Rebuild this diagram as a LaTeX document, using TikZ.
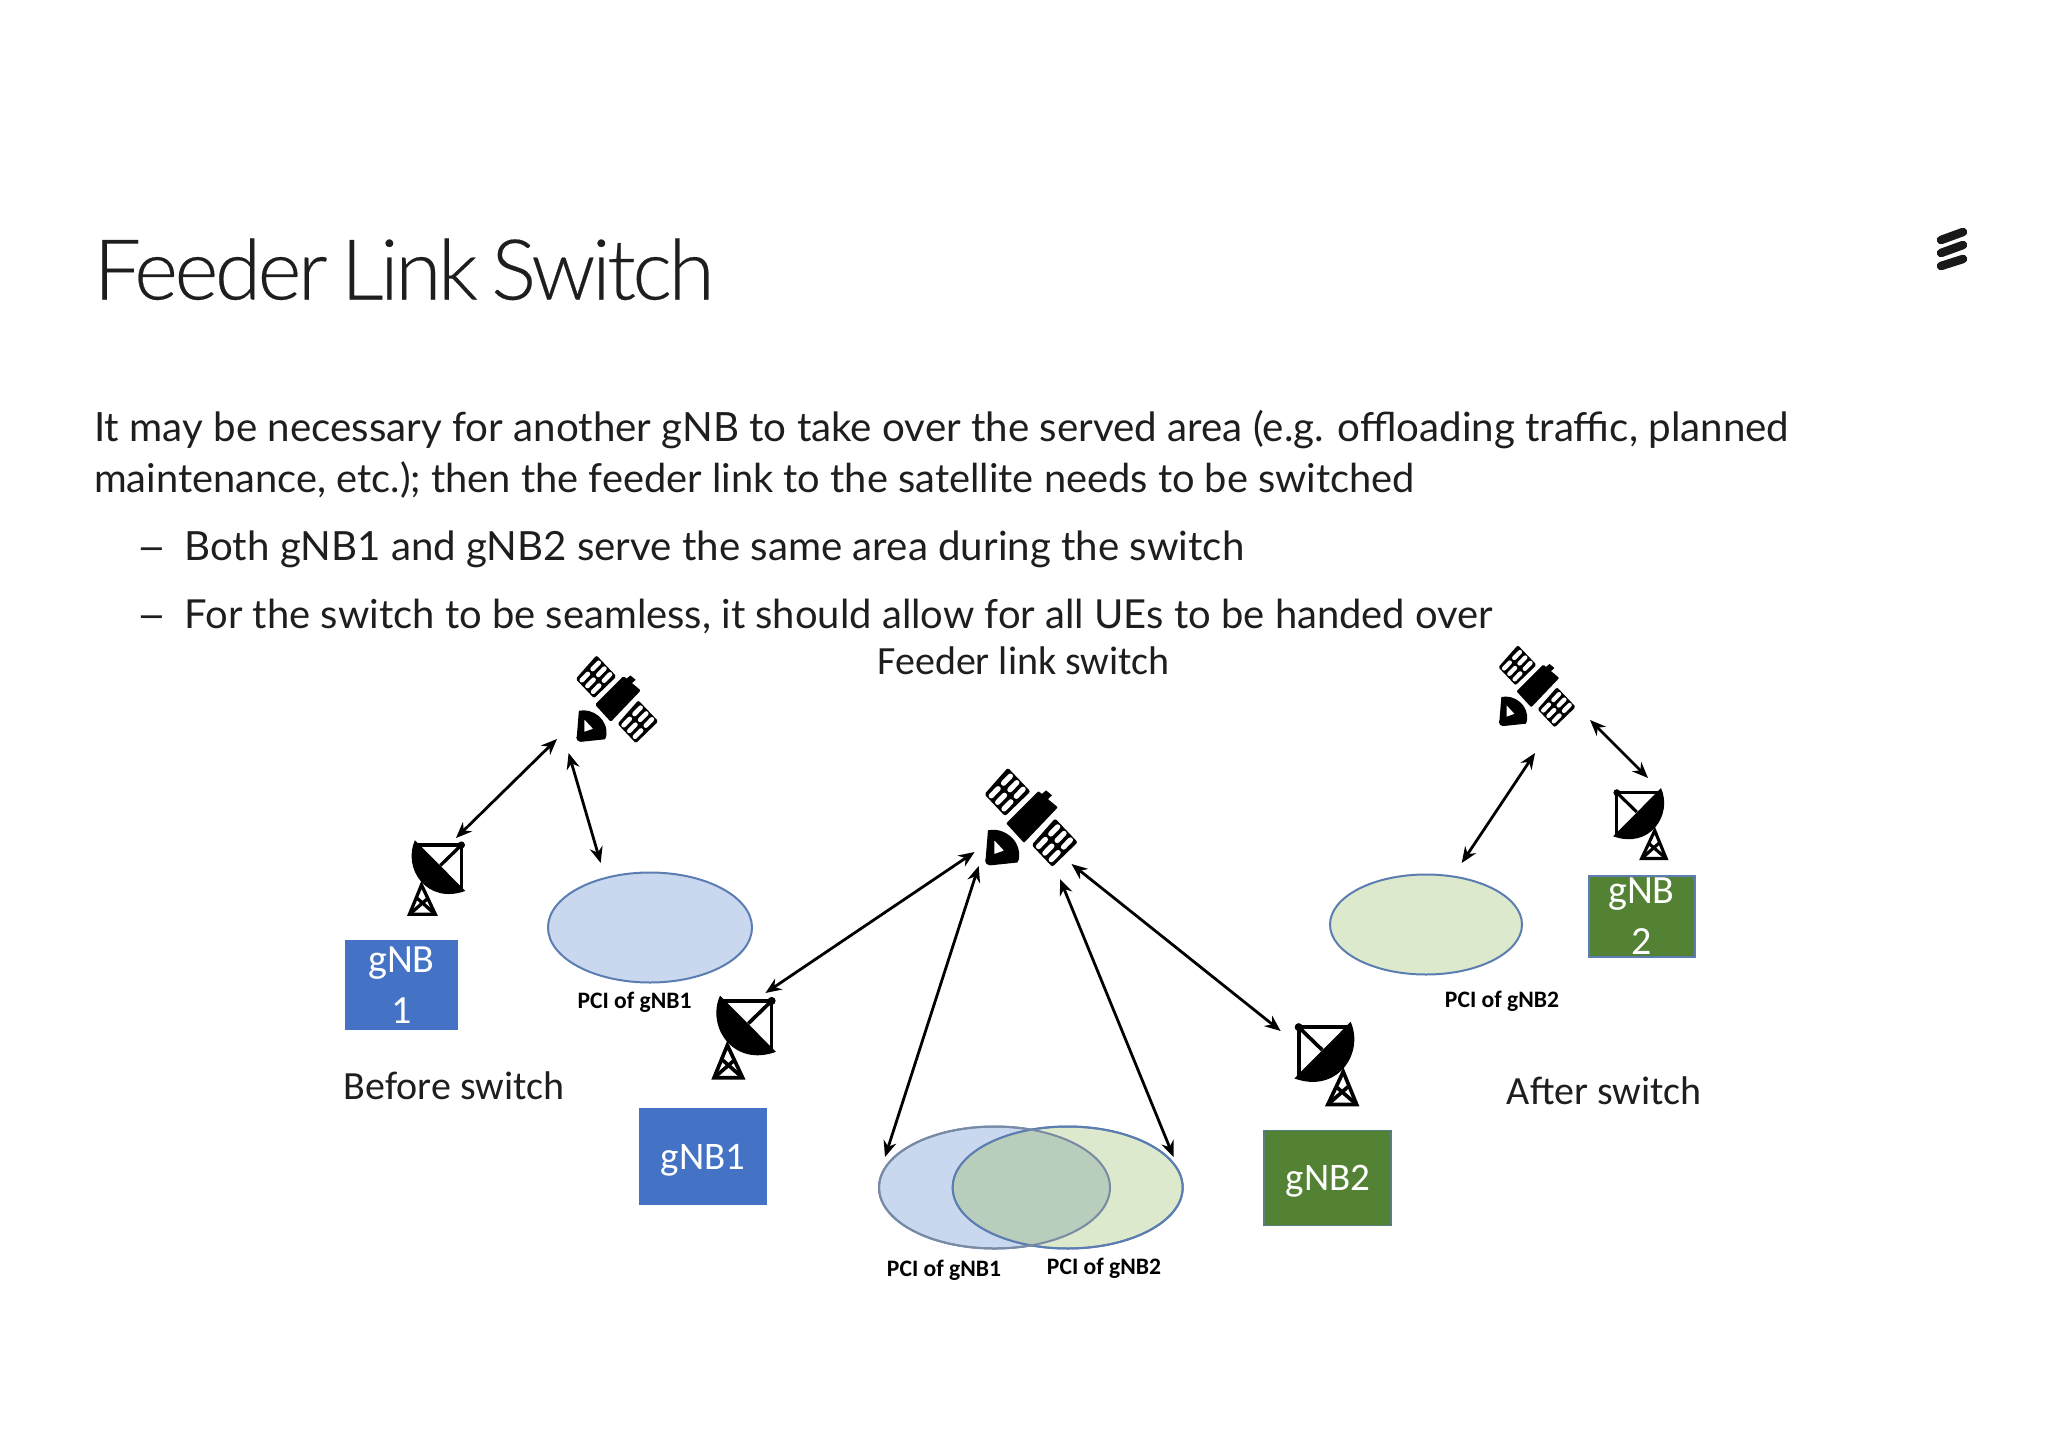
\documentclass[tikz,border=0pt]{standalone}
\usepackage{fontspec}
\setmainfont{Lato}
\newfontfamily\lab{Carlito}
\newfontfamily\titlef{Lato Light}[LetterSpace=-4.2,WordSpace=0.7,FakeBold=0.25]
\usetikzlibrary{arrows.meta,shapes.geometric}
\definecolor{bluebox}{HTML}{4472C4}
\definecolor{greenbox}{HTML}{548235}
\definecolor{bluefill}{HTML}{C9D7EF}
\definecolor{greenfill}{HTML}{DDE9CC}
\definecolor{overlapfill}{HTML}{B8CDBC}
\definecolor{ringcol}{HTML}{5B7DB1}
\definecolor{ink}{HTML}{1E1E1E}
\newcommand\FS[1]{\fontsize{#1}{#1}\selectfont}
\tikzset{
  link/.style={{Stealth[length=16pt,width=13pt]}-{Stealth[length=16pt,width=13pt]},line width=2.8pt,black},
  gbox/.style={inner sep=0pt,text=white,align=center,font=\lab\fontsize{40}{51}\selectfont},
  blue box/.style={gbox,fill=bluebox},
  green box/.style={gbox,fill=greenbox},
  box text/.style={inner sep=0pt,text=white,font=\lab\FS{39}},
  area/.style={ellipse,inner sep=0pt,draw=ringcol,line width=2pt},
  pci/.style={font=\lab\bfseries\FS{23.6},text=black,inner sep=0pt},
  cap label/.style={font=\lab\FS{40},text=ink,inner sep=0pt},
  bodyline/.style={anchor=base west,inner sep=0pt,text=ink},
  dash mark/.style={anchor=base west,inner sep=0pt,text=ink,font=\bfseries\FS{31}},
}
\newcommand\SatPanel[3]{% cx, cy, scale
  \fill[black,line join=round,line width=#3*12pt,draw=black]
    (#1+2,#2-62) -- (#1+58,#2-3) -- (#1-6,#2+59) -- (#1-57,#2+5) -- cycle;
  \foreach \u in {-26,0,26}{\foreach \v in {-25,25}{
    \draw[white,line cap=round,line width=#3*15pt]
      ({#1+0.70*\u-0.70*(\v-14)},{#2+0.72*\u+0.72*(\v-14)}) --
      ({#1+0.70*\u-0.70*(\v+14)},{#2+0.72*\u+0.72*(\v+14)});
  }}
}
\newcommand\SatIcon[3]{% x, y, scale
  \begin{scope}[shift={(#1,#2)},scale=#3,shift={(-215,-200)}]
    \SatPanel{147}{130}{#3}
    \SatPanel{282}{275}{#3}
    \fill[black,draw=white,line width=#3*5pt,rounded corners=#3*6pt]
      (140,218) -- (236,122) -- (296,172) -- (195,278) -- cycle;
    \fill[black] (245,135) -- (258,124) -- (275,138) -- (262,150) -- cycle;
    \fill[black,even odd rule]
      (92,238) .. controls (135,228) and (190,265) .. (180,322) -- (176,330) -- (100,338) -- (85,325) -- cycle
      (110,266) -- (138,296) -- (110,306) -- cycle;
    \fill[black] (97,325) circle (13);
  \end{scope}
}
\newcommand\DishIcon[4]{% x, y, xscale, yscale
  \pgfmathsetmacro\dS{abs(#3)}
  \begin{scope}[shift={(#1,#2)},xscale=#3,yscale=#4,shift={(-132,-172)}]
    \begin{scope}[black,line width=\dS*11pt,line join=miter]
      \draw (60,62) -- (215,62) -- (215,215);
      \draw (215,62) -- (145,130);
      \fill (215,62) circle (12);
      \draw (82,195) -- (42,293) -- (128,293) -- cycle;
      \draw (42,293) -- (103,240);
      \draw (128,293) -- (68,240);
    \end{scope}
    \fill[black] (60,46) .. controls (18,140) and (100,262) .. (228,215) -- cycle;
  \end{scope}
}
\begin{document}
\begin{tikzpicture}[x=1pt,y=-1pt]
\useasboundingbox (0,0) rectangle (2048,1448);
\fill[white] (0,0) rectangle (2048,1448);

% heading and body
\node (title) [anchor=base west,inner sep=0pt,text=ink,font=\titlef\FS{84}] at (93.5,299.5) {Feeder Link Switch};
\node (l1) [bodyline,font=\FS{40.3}] at (94,441) {It may be necessary for another gNB to take over the served area (e.g. offloading traffic, planned};
\node (l2) [bodyline,font=\FS{39.8}] at (94,492) {maintenance, etc.); then the feeder link to the satellite needs to be switched};
\node (d1) [dash mark] at (139,558.5) {—};
\node (l3) [bodyline,font=\FS{40.25}] at (184.5,560.5) {Both gNB1 and gNB2 serve the same area during the switch};
\node (d2) [dash mark] at (139,626.5) {—};
\node (l4) [bodyline,font=\FS{39.95}] at (184.5,628.5) {For the switch to be seamless, it should allow for all UEs to be handed over};

% logo
\foreach \yy/\zz in {240/232,253/245,266/259}
  \draw[black!90,line width=8.5pt,line cap=round] (1941,\yy) -- (1963,\zz);

% coverage areas
\node (e1) [area,fill=bluefill,minimum width=204pt,minimum height=110pt] at (650,927.5) {};
\node (e2) [area,fill=greenfill,minimum width=192pt,minimum height=100pt] at (1426,924.5) {};
\node (e3) [area,fill=bluefill,minimum width=231pt,minimum height=122pt] at (994.5,1187.5) {};
\node (e4) [area,fill=greenfill,minimum width=230pt,minimum height=122pt] at (1067.7,1187.5) {};
\begin{scope}
  \clip (994.5,1187.5) ellipse [x radius=115.5,y radius=61];
  \fill[overlapfill] (1067.7,1187.5) ellipse [x radius=115,y radius=61];
\end{scope}
\draw[ringcol,line width=2pt] (1067.7,1187.5) ellipse [x radius=115,y radius=61];
\draw[ringcol!70!black!70,line width=2pt] (994.5,1187.5) ellipse [x radius=115.5,y radius=61];

% gNB boxes
\node (g1s) [blue box,minimum width=113pt,minimum height=90pt] at (401.5,985) {gNB\\1};
\node (g1l) [blue box,minimum width=128pt,minimum height=97pt] at (703,1156.5) {};
\node (g1lt) [box text] at (703,1160) {gNB1};
\node (g2l) [green box,draw=ringcol!60!greenbox,line width=1.5pt,minimum width=127pt,minimum height=95pt] at (1327.5,1178) {};
\node (g2lt) [box text] at (1328,1181) {gNB2};
\node (g2s) [green box,draw=ringcol,line width=2pt,minimum width=106pt,minimum height=81pt] at (1641.5,916) {gNB\\2};

% icons
\SatIcon{617}{699}{0.31}
\SatIcon{1031}{817}{0.35}
\SatIcon{1537}{686}{0.29}
\DishIcon{436.5}{878}{0.3}{0.3}
\DishIcon{744}{1037.5}{0.333}{0.333}
\DishIcon{1326.5}{1064}{-0.335}{0.335}
\DishIcon{1640.5}{824}{-0.285}{0.285}

% arrow end points
\coordinate (a1s) at (557,739);   \coordinate (a1d) at (456,838);
\coordinate (a2s) at (568.6,753); \coordinate (a2e) at (600.7,863);
\coordinate (a3s) at (974.6,852); \coordinate (a3d) at (765.4,993);
\coordinate (a4s) at (978.7,866); \coordinate (a4e) at (885,1157);
\coordinate (a5s) at (1060,879);  \coordinate (a5e) at (1173.6,1157);
\coordinate (a6s) at (1071.5,864);\coordinate (a6d) at (1280.7,1031);
\coordinate (a7s) at (1535,753);  \coordinate (a7e) at (1461.7,863);
\coordinate (a8s) at (1590,720);  \coordinate (a8d) at (1648,778);
\foreach \p/\q in {a1s/a1d,a2s/a2e,a3s/a3d,a4s/a4e,a5s/a5e,a6s/a6d,a7s/a7e,a8s/a8d}
  \draw[link] (\p) -- (\q);

% labels
\node (p1) [pci] at (634.6,1002) {PCI of gNB1};
\node (p2) [pci] at (1502,1001) {PCI of gNB2};
\node (p3) [pci] at (944,1270) {PCI of gNB1};
\node (p4) [pci] at (1104,1268) {PCI of gNB2};
\node (c1) [cap label] at (454,1085.5) {Before switch};
\node (c2) [cap label] at (1604,1090.5) {After switch};
\node (c3) [cap label] at (1023.5,660.5) {Feeder link switch};
\end{tikzpicture}
\end{document}
